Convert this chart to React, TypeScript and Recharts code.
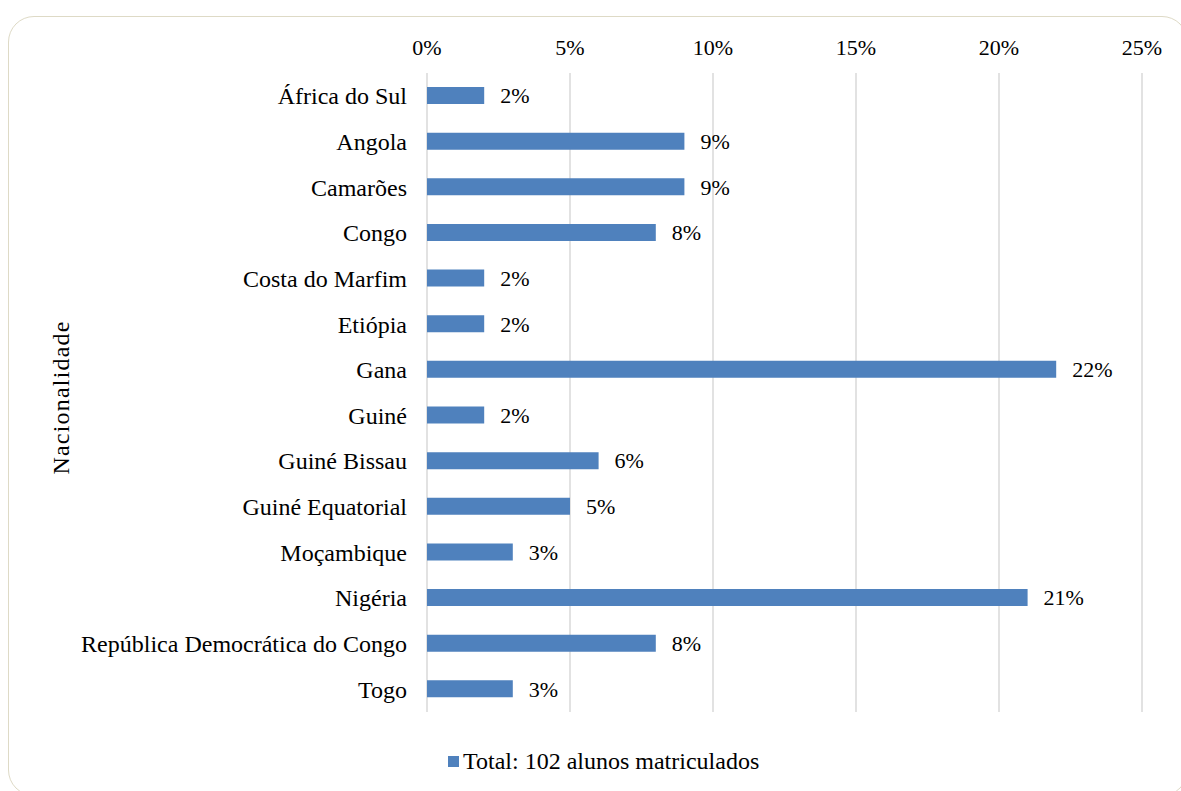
import { BarChart, Bar, XAxis, YAxis, CartesianGrid, LabelList } from "recharts";

const countries = [
  "África do Sul",
  "Angola",
  "Camarões",
  "Congo",
  "Costa do Marfim",
  "Etiópia",
  "Gana",
  "Guiné",
  "Guiné Bissau",
  "Guiné Equatorial",
  "Moçambique",
  "Nigéria",
  "República Democrática do Congo",
  "Togo",
];
const shares = [2, 9, 9, 8, 2, 2, 22, 2, 6, 5, 3, 21, 8, 3];
const pctTicks = [0, 5, 10, 15, 20, 25];
const seriesName = "Total: 102 alunos matriculados";

const data = countries.map((name, i) => ({ name, value: shares[i] }));

const FONT = '"Liberation Serif", "Times New Roman", serif';
const BAR = "#4f81bd";

export default function App() {
  return (
    <div style={{ position: "absolute", left: 0, top: 0, width: 1181, height: 791, background: "#fff", fontFamily: FONT }}>
      <div
        style={{
          position: "absolute",
          left: 8,
          top: 16,
          width: 1180,
          height: 780,
          border: "1.5px solid #dedac6",
          borderRadius: 26,
          boxSizing: "border-box",
        }}
      />
      <BarChart
        width={1181}
        height={791}
        data={data}
        layout="vertical"
        margin={{ top: 20, right: 39, left: 40, bottom: 79 }}
        barCategoryGap={0}
        style={{ position: "absolute", left: 0, top: 0 }}
      >
        <CartesianGrid horizontal={false} stroke="#d9d9d9" strokeWidth={1.5} />
        <XAxis
          type="number"
          orientation="top"
          domain={[0, 25]}
          ticks={pctTicks}
          tickFormatter={(v) => `${v}%`}
          axisLine={false}
          tickLine={false}
          tickMargin={12}
          height={53}
          tick={{ fill: "#000", fontSize: 22, fontFamily: FONT }}
        />
        <YAxis
          type="category"
          dataKey="name"
          width={387}
          axisLine={false}
          tickLine={false}
          tickMargin={14}
          interval={0}
          tick={{ fill: "#000", fontSize: 24, fontFamily: FONT }}
          label={{
            value: "Nacionalidade",
            angle: -90,
            position: "insideLeft",
            offset: 20,
            dy: 5,
            style: { textAnchor: "middle", fill: "#000", fontSize: 24, letterSpacing: 1.2, fontFamily: FONT },
          }}
        />
        <Bar dataKey="value" fill={BAR} barSize={17} isAnimationActive={false}>
          <LabelList
            dataKey="value"
            position="right"
            offset={16}
            formatter={(v: number) => `${v}%`}
            style={{ fill: "#000", fontSize: 22, fontFamily: FONT }}
          />
        </Bar>
      </BarChart>
      <div
        style={{
          position: "absolute",
          left: 448,
          top: 748,
          display: "flex",
          alignItems: "center",
          fontSize: 24,
          color: "#000",
          whiteSpace: "nowrap",
        }}
      >
        <span style={{ display: "inline-block", width: 11, height: 11, background: BAR, marginRight: 4 }} />
        {seriesName}
      </div>
    </div>
  );
}
